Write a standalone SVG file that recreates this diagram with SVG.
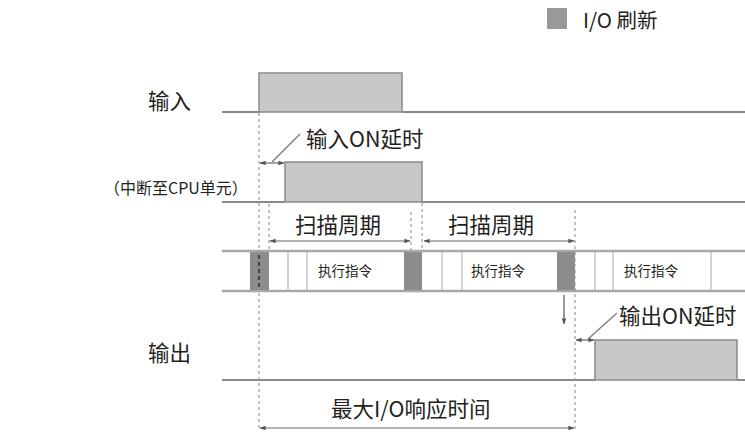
<svg xmlns="http://www.w3.org/2000/svg" width="745" height="434" viewBox="0 0 745 434">
<defs>
<marker id="ah" viewBox="0 0 8 8" refX="7.5" refY="4" markerWidth="6" markerHeight="6" orient="auto-start-reverse" markerUnits="userSpaceOnUse">
<path d="M0,1 L8,4 L0,7 Z" fill="#555"/>
</marker>
<style>
text{font-family:"Noto Sans CJK SC","Noto Sans",sans-serif;fill:#231f20}
.lbl{font-size:21.5px}
.cell{font-size:13.5px}
.sig{fill:#c8c8c8;stroke:#8a8a8a;stroke-width:1.5}
.base{fill:none;stroke:#8a8a8a;stroke-width:2}
.dash{fill:none;stroke:#9a9a9a;stroke-width:1.2;stroke-dasharray:3,3}
.arr{fill:none;stroke:#666;stroke-width:1.2;marker-start:url(#ah);marker-end:url(#ah)}
.lead{fill:none;stroke:#777;stroke-width:1.2}
.io{fill:#8c8c8c}
.thin{stroke:#c4c4c4;stroke-width:1.5}
</style>
</defs>
<rect width="745" height="434" fill="#ffffff"/>

<g id="legend">
<rect x="547" y="8" width="20" height="21" fill="#999"/>
<text class="lbl" x="583" y="28" style="font-size:20.5px">I/O 刷新</text>
</g>

<g id="input">
<text class="lbl" x="148" y="109">输入</text>
<rect class="sig" x="259" y="73" width="143" height="39"/>
<polyline class="base" points="222,112 259,112"/>
<polyline class="base" points="402,112 745,112"/>
</g>

<g id="interrupt">
<text class="lbl" x="104" y="194" style="font-size:16px">（中断至CPU单元）</text>
<rect class="sig" x="285" y="162" width="137" height="40"/>
<polyline class="base" points="222,202 285,202"/>
<polyline class="base" points="422,202 745,202"/>
</g>

<g id="bar">
<line x1="222" y1="251" x2="745" y2="251" stroke="#a8a8a8" stroke-width="2.5"/>
<line x1="222" y1="291" x2="745" y2="291" stroke="#a8a8a8" stroke-width="2.5"/>
<rect class="io" x="250" y="252" width="19" height="38"/>
<rect class="io" x="404" y="252" width="18" height="38"/>
<rect class="io" x="557" y="252" width="18" height="38"/>
<line class="thin" x1="288" y1="252" x2="288" y2="290"/>
<line class="thin" x1="307" y1="252" x2="307" y2="290"/>
<line class="thin" x1="442" y1="252" x2="442" y2="290"/>
<line class="thin" x1="462" y1="252" x2="462" y2="290"/>
<line class="thin" x1="595" y1="252" x2="595" y2="290"/>
<line class="thin" x1="613" y1="252" x2="613" y2="290"/>
<line class="thin" x1="711" y1="252" x2="711" y2="290"/>
<text class="cell" x="345" y="276" text-anchor="middle">执行指令</text>
<text class="cell" x="498" y="276" text-anchor="middle">执行指令</text>
<text class="cell" x="651" y="276" text-anchor="middle">执行指令</text>
</g>

<g id="output">
<text class="lbl" x="148" y="361">输出</text>
<rect class="sig" x="595" y="340" width="142" height="40"/>
<polyline class="base" points="222,380 595,380"/>
<polyline class="base" points="737,380 745,380"/>
</g>

<g id="connectors">
<line class="dash" x1="259" y1="113" x2="259" y2="430"/>
<line x1="259" y1="255" x2="259" y2="288" stroke="#111" stroke-width="1.2" stroke-dasharray="4,3"/>
<line class="dash" x1="269" y1="204" x2="269" y2="250"/>
<line class="dash" x1="411" y1="212" x2="411" y2="250"/>
<line class="dash" x1="422" y1="203" x2="422" y2="250"/>
<line class="dash" x1="575" y1="210" x2="575" y2="430"/>
<line class="arr" x1="260" y1="163" x2="284" y2="163"/>
<line class="lead" x1="272" y1="162" x2="300" y2="134"/>
<text class="lbl" x="306" y="147">输入ON延时</text>
<line class="arr" x1="270" y1="241" x2="410" y2="241"/>
<line class="arr" x1="424" y1="241" x2="574" y2="241"/>
<text class="lbl" x="295" y="233">扫描周期</text>
<text class="lbl" x="448" y="233">扫描周期</text>
<line x1="564" y1="295" x2="564" y2="324" stroke="#555" stroke-width="1.2" marker-end="url(#ah)"/>
<line class="arr" x1="576" y1="340" x2="594" y2="340"/>
<line class="lead" x1="588" y1="339" x2="617" y2="313"/>
<text class="lbl" x="619" y="324">输出ON延时</text>
<line class="arr" x1="260" y1="428" x2="574" y2="428"/>
<text class="lbl" x="331" y="417">最大I/O响应时间</text>
</g>
</svg>
